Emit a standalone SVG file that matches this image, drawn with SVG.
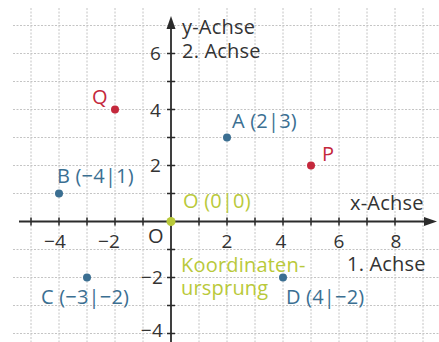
<svg xmlns="http://www.w3.org/2000/svg" width="439" height="342" viewBox="0 0 439 342">
<style>
.grid line{stroke:#c4c4c4;stroke-width:1;stroke-dasharray:2 1.5}
.axis{stroke:#2b2b2b;stroke-width:1.8;fill:none}
.tick{stroke:#2b2b2b;stroke-width:1.5}
text{font-family:"Open Sans","Noto Sans","DejaVu Sans",sans-serif;font-size:20px;letter-spacing:0.2px}
text.n{font-size:19px}
.k{fill:#333}
.b{fill:#3b6f92}
.r{fill:#c4283c}
.y{fill:#b9c93a}
</style>
<rect width="439" height="342" fill="#fff"/>
<g class="grid">
<line x1="31" y1="8" x2="31" y2="342"/><line x1="59" y1="8" x2="59" y2="342"/><line x1="87" y1="8" x2="87" y2="342"/><line x1="115" y1="8" x2="115" y2="342"/><line x1="143" y1="8" x2="143" y2="342"/><line x1="199" y1="8" x2="199" y2="342"/><line x1="227" y1="8" x2="227" y2="342"/><line x1="255" y1="8" x2="255" y2="342"/><line x1="283" y1="8" x2="283" y2="342"/><line x1="311" y1="8" x2="311" y2="342"/><line x1="339" y1="8" x2="339" y2="342"/><line x1="367" y1="8" x2="367" y2="342"/><line x1="395" y1="8" x2="395" y2="342"/><line x1="423" y1="8" x2="423" y2="342"/>
<line x1="13" y1="25.5" x2="439" y2="25.5"/><line x1="13" y1="53.5" x2="439" y2="53.5"/><line x1="13" y1="81.5" x2="439" y2="81.5"/><line x1="13" y1="109.5" x2="439" y2="109.5"/><line x1="13" y1="137.5" x2="439" y2="137.5"/><line x1="13" y1="165.5" x2="439" y2="165.5"/><line x1="13" y1="193.5" x2="439" y2="193.5"/><line x1="13" y1="249.5" x2="439" y2="249.5"/><line x1="13" y1="277.5" x2="439" y2="277.5"/><line x1="13" y1="305.5" x2="439" y2="305.5"/><line x1="13" y1="333.5" x2="439" y2="333.5"/>
</g>
<g id="connectors">
<g id="x-axis">
<line class="axis" x1="19" y1="221.5" x2="428" y2="221.5"/>
<path d="M437 221.5 L424 217 L424 226 Z" fill="#2b2b2b"/>
<path class="tick" d="M31 217.5v8M59 217.5v8M87 217.5v8M115 217.5v8M143 217.5v8M199 217.5v8M227 217.5v8M255 217.5v8M283 217.5v8M311 217.5v8M339 217.5v8M367 217.5v8M395 217.5v8"/>
</g>
<g id="y-axis">
<line class="axis" x1="171" y1="342" x2="171" y2="26"/>
<path d="M171 16 L166.5 29 L175.5 29 Z" fill="#2b2b2b"/>
<path class="tick" d="M167 53.5h8M167 81.5h8M167 109.5h8M167 137.5h8M167 165.5h8M167 193.5h8M167 249.5h8M167 277.5h8M167 305.5h8M167 333.5h8"/>
</g>
</g>
<g id="labels">
<text class="k" x="182" y="34">y-Achse</text>
<text class="k" x="182" y="58">2. Achse</text>
<text class="k" x="350" y="210">x-Achse</text>
<text class="k" x="347" y="271">1. Achse</text>
<text class="k n" x="161" y="60" text-anchor="end">6</text>
<text class="k n" x="161" y="117" text-anchor="end">4</text>
<text class="k n" x="161" y="172" text-anchor="end">2</text>
<text class="k n" x="163" y="284" text-anchor="end">−2</text>
<text class="k n" x="163" y="337" text-anchor="end">−4</text>
<text class="k n" x="55" y="248" text-anchor="middle">−4</text>
<text class="k n" x="109" y="248" text-anchor="middle">−2</text>
<text class="k n" x="227" y="248" text-anchor="middle">2</text>
<text class="k n" x="281" y="248" text-anchor="middle">4</text>
<text class="k n" x="339" y="248" text-anchor="middle">6</text>
<text class="k n" x="396" y="248" text-anchor="middle">8</text>
<text class="k" x="148" y="243">O</text>
</g>
<g id="Q"><circle cx="115" cy="109.5" r="4" class="r"/><text class="r" x="92" y="104">Q</text></g>
<g id="P"><circle cx="311" cy="165.5" r="4" class="r"/><text class="r" x="322" y="161">P</text></g>
<g id="A"><circle cx="227" cy="137.5" r="4" class="b"/><text class="b" x="232" y="128">A (2|3)</text></g>
<g id="B"><circle cx="59" cy="193.5" r="4" class="b"/><text class="b" x="57" y="183">B (−4|1)</text></g>
<g id="C"><circle cx="87" cy="277.5" r="4" class="b"/><text class="b" x="41" y="304">C (−3|−2)</text></g>
<g id="D"><circle cx="283" cy="277.5" r="4" class="b"/><text class="b" x="286" y="304">D (4|−2)</text></g>
<g id="O"><circle cx="171" cy="221.5" r="4.5" class="y"/><text class="y" x="183" y="208">O (0|0)</text><text class="y" x="181" y="272">Koordinaten-</text><text class="y" x="181" y="295">ursprung</text></g>
</svg>
